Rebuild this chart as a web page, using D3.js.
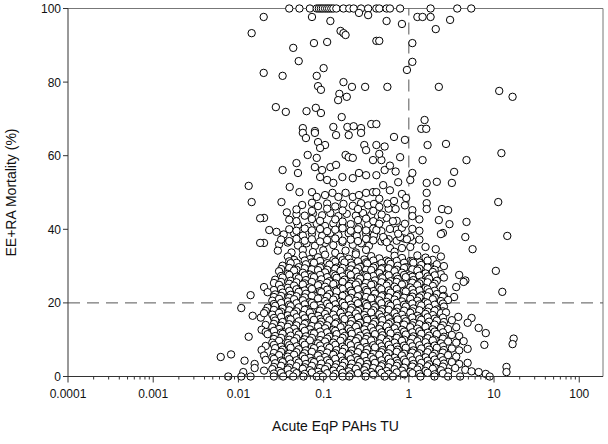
<!DOCTYPE html>
<html>
<head>
<meta charset="utf-8">
<script src="https://cdn.jsdelivr.net/npm/d3@7"></script>
<style>
  body { margin: 0; background: #fff; }
  svg { display: block; font-family: "Liberation Sans", Arial, sans-serif; }
</style>
</head>
<body>
<div id="chart"></div>
<script>
// [TU, mortality %], grouped by mortality band
const topRow = [[0.0395,100],[0.052,100],[0.069,100],[0.083,100],[0.088,100],[0.093,100],[0.098,100],[0.104,100],[0.11,100],[0.116,100],[0.123,100],[0.13,100],[0.141,100],[0.171,100],[0.2,100],[0.225,100],[0.275,100],[0.333,100],[0.416,100],[0.45,100],[0.548,100],[0.6,100],[0.79,100],[1.8,100],[3.7,100],[5.4,100]];

const upper = [[0.0198,97.7],[0.0143,93.3],[0.073,97.7],[0.12,96.6],[0.158,93.9],[0.171,93.3],[0.181,92.8],[0.077,90.6],[0.11,90.9],[0.044,89.3],[0.051,85.7],[0.0198,82.5],[0.033,81.7],[0.1,83.8],[0.083,81.7],[0.086,78.9],[0.093,77.9],[0.171,80],[0.215,78.7],[0.307,78.7],[0.153,76.8],[0.148,75.1],[0.187,76],[0.0275,73.2],[0.036,71.9],[0.063,72.1],[0.081,73],[0.093,71.6],[0.163,70.5],[0.416,91.2],[0.362,68.6],[0.416,68.6],[0.057,67.5],[0.079,66.7],[0.13,67.8],[0.19,67.8],[0.225,68],[0.275,67.5],[0.26,98.8],[0.333,98.2],[0.548,96.6],[0.83,95.8],[1.26,97.7],[1.45,97.7],[1.8,97.7],[3.05,96.9],[2.07,94.4],[0.45,91.2],[1.1,90.6],[1.1,85.5],[0.95,83.3],[0.56,78.7],[2.25,78.7],[1.53,69.7],[1.4,67.3],[1.6,67.3]];

const outliers = [[11.5,77.6],[16.5,76],[12.2,60.7],[11.2,47.4],[14.3,38.2],[10.5,28.7],[12.5,23],[17,10.3],[16.5,8.8],[14,2.6],[14,1.2]];

const middle = [[0.057,66.2],[0.079,66.2],[0.275,66.2],[0.14,65.6],[0.197,65.6],[0.062,64.8],[0.3,62.9],[0.315,61.5],[0.086,63.7],[0.104,62.9],[0.091,62.1],[0.065,60.2],[0.083,59.4],[0.181,60.2],[0.197,59.6],[0.22,59.4],[0.38,58.8],[0.048,58],[0.05,55.3],[0.033,56.1],[0.079,56.9],[0.096,56.1],[0.12,56.9],[0.14,57.5],[0.091,54.2],[0.11,53.4],[0.13,52.6],[0.166,54.2],[0.22,53.9],[0.26,55.3],[0.315,54.7],[0.04,51.5],[0.052,50.1],[0.073,50.1],[0.083,48.8],[0.104,49.3],[0.127,49.9],[0.149,48.8],[0.181,49.9],[0.22,48.8],[0.26,49.3],[0.315,49.9],[0.38,50.1],[0.032,47.4],[0.056,46.6],[0.073,47.2],[0.086,46.3],[0.11,47],[0.137,46.2],[0.171,46.9],[0.22,46.4],[0.275,47.1],[0.333,46.5],[0.39,46.9],[0.037,44.6],[0.048,44.1],[0.06,43.7],[0.075,44.3],[0.096,43.8],[0.12,44.4],[0.149,43.6],[0.187,44.2],[0.239,43.7],[0.29,44.4],[0.362,43.9],[0.02,43.1],[0.05,41.2],[0.065,40.7],[0.083,41.5],[0.104,40.9],[0.13,41.6],[0.166,40.8],[0.208,41.4],[0.26,40.6],[0.333,41.3],[0.023,39.8],[0.028,39.3],[0.034,38.6],[0.045,38.9],[0.057,38.3],[0.073,38.8],[0.096,38.2],[0.12,39],[0.149,38.4],[0.197,38.9],[0.245,38.2],[0.315,38.8],[0.39,38.4],[0.02,36.3],[0.03,35.9],[0.038,36.4],[0.05,35.6],[0.063,36.2],[0.079,35.5],[0.104,36.3],[0.13,35.7],[0.166,36.5],[0.22,35.8],[0.275,36.2],[0.34,35.5],[0.029,34.2],[0.042,33.7],[0.057,34.4],[0.075,33.8],[0.099,34.3],[0.137,33.6],[0.181,34.2],[0.239,33.7],[0.315,34.4],[0.0132,51.8],[0.0143,47.4],[0.018,43],[0.018,36.3],
  [0.048,45.4],[0.0728,45.0],[0.11,45.6],[0.167,45.1],[0.253,45.5],[0.383,45.0],[0.58,45.6],[1.1,45.2],
  [0.0395,42.6],[0.048,42.2],[0.0728,42.8],[0.0908,42.3],[0.137,42.7],[0.167,42.1],[0.253,42.5],[0.315,42.9],[0.383,42.2],[0.477,42.6],[0.72,42.3],[1.33,42.7],
  [0.0395,40.0],[0.048,39.6],[0.06,40.2],[0.0728,39.7],[0.0908,40.1],[0.11,39.5],[0.137,39.9],[0.167,40.3],[0.208,39.6],[0.253,40.0],[0.315,39.7],[0.383,40.2],[0.477,39.5],[0.72,39.9],[1.1,40.1],[1.33,39.6],
  [0.0317,37.2],[0.0395,36.8],[0.048,37.4],[0.06,36.9],[0.0728,37.3],[0.0908,36.7],[0.11,37.1],[0.137,37.5],[0.167,36.9],[0.208,37.2],[0.253,36.8],[0.315,37.4],[0.383,37.0],[0.477,36.7],[0.58,37.3],[0.72,36.9],[0.88,37.5],[1.1,36.8],[1.33,37.2]];

const middleRight = [[0.67,65.1],[0.9,64.3],[1.66,62.9],[2.73,63.2],[0.416,62.9],[0.477,58.8],[0.79,59.6],[1.45,58.8],[4.75,58.8],[0.52,56.1],[1.1,55.3],[3.4,55.6],[1.04,53.4],[1.62,52.6],[2.13,52.9],[3.2,52.6],[1.62,49.9],[0.67,47.7],[0.83,49.6],[0.93,48.5],[1.62,47.1],[0.7,45.5],[1.62,45.5],[2.45,45.5],[2.89,45.2],[1.1,43.6],[2.25,42.5],[3.0,41.4],[4.75,42],[0.6,40.1],[0.83,40.4],[2.51,39],[2.38,38.7],[1.04,37.9],[4.6,37.9],[0.52,37.1],[0.79,37.9],[1.57,35.2],[2.07,34.6],[5.6,34.6],[0.416,50.1],[0.45,46.1],[0.548,43.1],[0.416,39.8],[0.5,37.9],[0.6,34.9],[0.83,34.9],[1.04,35.2],[0.416,54.7],[0.45,60.5],[0.52,62.5],[0.6,57.3],[0.7,55.7],[0.5,52],[0.6,50.6],[0.75,52.8],[0.45,48.3],[0.56,47],[0.9,46.5],[0.48,44],[0.65,42.2],[0.9,41.5],[0.45,41.5],[0.75,38.8],[0.95,37.3],[0.55,36.5],[0.68,33.9]];

const lower = [
  [0.038,32.6],[0.045,31.7],[0.057,32.9],[0.069,31.9],[0.086,32.4],[0.104,33.1],[0.13,31.6],[0.158,32.5],[0.197,32.0],[0.239,33.2],[0.3,31.8],[0.362,32.7],[0.45,32.1],[0.548,31.5],[0.68,32.8],[0.83,32.2],[1.04,31.4],[1.26,32.9],[1.57,32.3],[1.91,31.7],[2.38,32.6],
  [0.0395,31.3],[0.048,30.9],[0.06,31.5],[0.0728,31.0],[0.0908,31.4],[0.11,30.8],[0.137,31.2],[0.167,31.6],[0.208,30.9],[0.253,31.3],[0.315,31.0],[0.383,31.5],[0.477,30.8],[0.58,31.2],[0.72,31.4],[0.88,30.9],[1.1,31.3],[1.33,31.0],[1.66,31.5],
  [0.033,30.1],[0.041,30.8],[0.051,29.7],[0.062,30.5],[0.077,30.9],[0.094,29.9],[0.117,30.4],[0.142,29.6],[0.176,31.0],[0.214,30.2],[0.268,29.8],[0.325,30.7],[0.4,30.0],[0.49,29.5],[0.61,30.6],[0.74,30.1],[0.92,29.7],[1.13,30.9],[1.4,30.3],[1.73,29.6],[2.13,30.5],[2.58,30.0],[3.9,27.6],[4.6,26.1],
  [0.0317,29.2],[0.0395,29.5],[0.048,29.0],[0.06,29.4],[0.0728,29.1],[0.0908,29.6],[0.11,29.0],[0.137,29.3],[0.167,29.5],[0.208,29.1],[0.253,29.4],[0.315,29.0],[0.383,29.6],[0.477,29.2],[0.58,29.4],[0.72,29.0],[0.88,29.5],[1.1,29.1],[1.33,29.3],[1.66,29.6],[2.01,29.0],
  [0.03,28.6],[0.038,27.9],[0.045,28.8],[0.057,28.2],[0.069,27.7],[0.086,28.9],[0.104,28.3],[0.13,27.8],[0.158,28.7],[0.197,28.0],[0.239,28.5],[0.3,27.6],[0.362,28.9],[0.45,28.1],[0.548,27.7],[0.68,28.6],[0.83,28.2],[1.04,27.5],[1.26,28.8],[1.57,28.0],[1.91,28.4],[2.38,27.8],
  [0.0317,27.3],[0.0395,27.6],[0.048,27.1],[0.06,27.5],[0.0728,27.2],[0.0908,27.6],[0.11,27.0],[0.137,27.4],[0.167,27.2],[0.208,27.6],[0.253,27.1],[0.315,27.5],[0.383,27.3],[0.477,27.0],[0.58,27.5],[0.72,27.2],[0.88,27.6],[1.1,27.1],[1.33,27.4],[1.66,27.2],[2.01,27.5],
  [0.027,26.3],[0.033,26.9],[0.041,26.0],[0.051,26.7],[0.062,26.2],[0.077,27.0],[0.094,26.4],[0.117,25.9],[0.142,26.8],[0.176,26.3],[0.214,25.8],[0.268,26.6],[0.325,27.1],[0.4,26.1],[0.49,26.7],[0.61,25.9],[0.74,26.5],[0.92,27.0],[1.13,26.2],[1.4,25.8],[1.73,26.6],[2.13,26.0],[2.58,26.9],
  [0.0261,25.4],[0.0317,25.7],[0.0395,25.2],[0.048,25.6],[0.06,25.3],[0.0728,25.7],[0.0908,25.1],[0.11,25.5],[0.137,25.3],[0.167,25.7],[0.208,25.2],[0.253,25.6],[0.315,25.4],[0.383,25.1],[0.477,25.6],[0.58,25.3],[0.72,25.7],[0.88,25.2],[1.1,25.5],[1.33,25.3],[1.66,25.6],[2.01,25.2],
  [0.02,24.3],[0.03,24.9],[0.038,24.1],[0.045,24.7],[0.057,25.0],[0.069,24.2],[0.086,24.8],[0.104,24.4],[0.13,25.1],[0.158,24.0],[0.197,24.6],[0.239,25.0],[0.3,24.3],[0.362,24.9],[0.45,24.1],[0.548,24.7],[0.68,24.4],[0.83,25.0],[1.04,24.2],[1.26,24.8],[1.57,24.0],[1.91,24.6],[3.6,24.3],[4.4,25.7],
  [0.0261,23.5],[0.0317,23.8],[0.0395,23.3],[0.048,23.7],[0.06,23.4],[0.0728,23.8],[0.0908,23.2],[0.11,23.6],[0.137,23.4],[0.167,23.8],[0.208,23.3],[0.253,23.7],[0.315,23.5],[0.383,23.2],[0.477,23.7],[0.58,23.4],[0.72,23.8],[0.88,23.3],[1.1,23.6],[1.33,23.4],[1.66,23.7],[2.01,23.3],[2.51,23.6],
  [0.0139,22.1],[0.022,22.9],[0.027,22.3],[0.033,22.8],[0.041,22.2],[0.051,23.0],[0.062,22.5],[0.077,22.0],[0.094,22.9],[0.117,22.4],[0.142,23.1],[0.176,22.2],[0.214,22.7],[0.268,22.0],[0.325,23.0],[0.4,22.5],[0.49,22.1],[0.61,22.8],[0.74,22.3],[0.92,23.1],[1.13,22.6],[1.4,22.0],[1.73,22.9],[2.13,22.4],[2.58,21.9],[3.4,21.6],
  [0.0261,21.6],[0.0317,21.9],[0.0395,21.4],[0.048,21.8],[0.06,21.5],[0.0728,21.9],[0.0908,21.3],[0.11,21.7],[0.137,21.5],[0.167,21.9],[0.208,21.4],[0.253,21.8],[0.315,21.6],[0.383,21.3],[0.477,21.8],[0.58,21.5],[0.72,21.9],[0.88,21.4],[1.1,21.7],[1.33,21.5],[1.66,21.8],[2.01,21.4],[2.51,21.7],
  [0.025,20.6],[0.03,21.1],[0.038,20.4],[0.045,21.0],[0.057,20.7],[0.069,20.2],[0.086,21.2],[0.104,20.5],[0.13,20.9],[0.158,20.3],[0.197,21.0],[0.239,20.6],[0.3,20.1],[0.362,21.2],[0.45,20.7],[0.548,20.3],[0.68,20.9],[0.83,20.4],[1.04,21.1],[1.26,20.6],[1.57,20.2],[1.91,21.0],[2.38,20.5],[2.89,20.8],
  [0.0261,19.7],[0.0317,20.0],[0.0395,19.5],[0.048,19.9],[0.06,19.6],[0.0728,20.0],[0.0908,19.4],[0.11,19.8],[0.137,19.6],[0.167,20.0],[0.208,19.5],[0.253,19.9],[0.315,19.7],[0.383,19.4],[0.477,19.9],[0.58,19.6],[0.72,20.0],[0.88,19.5],[1.1,19.8],[1.33,19.6],[1.66,19.9],[2.01,19.5],[2.51,19.8],
  [0.0108,18.6],[0.022,18.7],[0.027,19.2],[0.033,18.5],[0.041,19.1],[0.051,18.8],[0.062,18.3],[0.077,19.3],[0.094,18.6],[0.117,19.0],[0.142,18.4],[0.176,19.2],[0.214,18.7],[0.268,18.2],[0.325,19.1],[0.4,18.8],[0.49,18.3],[0.61,19.2],[0.74,18.6],[0.92,19.0],[1.13,18.5],[1.4,19.3],[1.73,18.7],[2.13,18.2],[2.58,19.0],
  [0.0209,17.8],[0.0261,18.1],[0.0317,17.6],[0.0395,18.0],[0.048,17.7],[0.06,18.1],[0.0728,17.5],[0.0908,17.9],[0.11,17.7],[0.137,18.1],[0.167,17.6],[0.208,18.0],[0.253,17.8],[0.315,17.5],[0.383,18.0],[0.477,17.7],[0.58,18.1],[0.72,17.6],[0.88,17.9],[1.1,17.7],[1.33,18.0],[1.66,17.6],[2.01,17.9],[2.51,17.7],
  [0.0147,16.5],[0.0183,16.0],[0.02,17.2],[0.025,16.8],[0.03,17.3],[0.038,16.6],[0.045,17.1],[0.057,16.7],[0.069,17.4],[0.086,16.5],[0.104,17.0],[0.13,16.8],[0.158,17.3],[0.197,16.6],[0.239,17.1],[0.3,16.7],[0.362,17.4],[0.45,16.9],[0.548,16.4],[0.68,17.2],[0.83,16.8],[1.04,17.3],[1.26,16.5],[1.57,17.0],[1.91,16.7],[2.38,17.2],[2.73,17.4],[3.8,16.2],[5.45,15.9]
];

const bottom = [
  [0.0261,15.9],[0.0317,16.2],[0.0395,15.7],[0.048,16.1],[0.06,15.8],[0.0728,16.2],[0.0908,15.6],[0.11,16.0],[0.137,15.8],[0.167,16.2],[0.208,15.7],[0.253,16.1],[0.315,15.9],[0.383,15.6],[0.477,16.1],[0.58,15.8],[0.72,16.2],[0.88,15.7],[1.1,16.0],[1.33,15.8],[1.66,16.1],[2.01,15.7],[2.51,16.0],
  [0.027,15.2],[0.033,14.8],[0.041,15.5],[0.051,15.0],[0.062,14.6],[0.077,15.4],[0.094,14.9],[0.117,15.3],[0.142,14.7],[0.176,15.6],[0.214,15.1],[0.268,14.6],[0.325,15.4],[0.4,14.9],[0.49,15.3],[0.61,14.7],[0.74,15.5],[0.92,15.0],[1.13,14.6],[1.4,15.4],[1.73,14.9],[2.13,15.2],[2.58,14.8],[3.2,15.3],[4.9,14.6],
  [0.0209,14.0],[0.0261,14.3],[0.0317,13.8],[0.0395,14.2],[0.048,13.9],[0.06,14.3],[0.0728,13.7],[0.0908,14.1],[0.11,13.9],[0.137,14.3],[0.167,13.8],[0.208,14.2],[0.253,14.0],[0.315,13.7],[0.383,14.2],[0.477,13.9],[0.58,14.3],[0.72,13.8],[0.88,14.1],[1.1,13.9],[1.33,14.2],[1.66,13.8],[2.01,14.1],[2.51,13.9],
  [0.0187,12.7],[0.025,13.4],[0.03,12.9],[0.038,13.5],[0.045,13.0],[0.057,13.3],[0.069,12.8],[0.086,13.6],[0.104,13.1],[0.13,12.7],[0.158,13.4],[0.197,13.0],[0.239,13.5],[0.3,12.8],[0.362,13.3],[0.45,12.9],[0.548,13.6],[0.68,13.1],[0.83,12.7],[1.04,13.4],[1.26,13.0],[1.57,13.5],[1.91,12.8],[2.38,13.2],[2.89,12.9],[3.6,13.4],[6.6,13.2],[8.0,11.8],
  [0.0209,12.1],[0.0261,12.4],[0.0317,11.9],[0.0395,12.3],[0.048,12.0],[0.06,12.4],[0.0728,11.8],[0.0908,12.2],[0.11,12.0],[0.137,12.4],[0.167,11.9],[0.208,12.3],[0.253,12.1],[0.315,11.8],[0.383,12.3],[0.477,12.0],[0.58,12.4],[0.72,11.9],[0.88,12.2],[1.1,12.0],[1.33,12.3],[1.66,11.9],[2.01,12.2],[2.51,12.0],
  [0.0132,10.8],[0.022,11.5],[0.027,11.0],[0.033,11.6],[0.041,11.1],[0.051,11.4],[0.062,10.9],[0.077,11.7],[0.094,11.2],[0.117,10.8],[0.142,11.5],[0.176,11.0],[0.214,11.6],[0.268,11.1],[0.325,10.9],[0.4,11.5],[0.49,11.2],[0.61,11.7],[0.74,11.0],[0.92,11.4],[1.13,10.9],[1.4,11.6],[1.73,11.1],[2.13,11.5],[2.58,10.8],[3.2,11.3],[3.9,11.0],
  [0.0261,10.2],[0.0317,10.5],[0.0395,10.0],[0.048,10.4],[0.06,10.1],[0.0728,10.5],[0.0908,9.9],[0.11,10.3],[0.137,10.1],[0.167,10.5],[0.208,10.0],[0.253,10.4],[0.315,10.2],[0.383,9.9],[0.477,10.4],[0.58,10.1],[0.72,10.5],[0.88,10.0],[1.1,10.3],[1.33,10.1],[1.66,10.4],[2.01,10.0],[2.51,10.3],
  [0.025,9.2],[0.03,9.7],[0.038,9.1],[0.045,9.6],[0.057,9.3],[0.069,9.8],[0.086,9.0],[0.104,9.5],[0.13,9.2],[0.158,9.7],[0.197,9.1],[0.239,9.6],[0.3,9.3],[0.362,9.8],[0.45,9.0],[0.548,9.5],[0.68,9.2],[0.83,9.7],[1.04,9.1],[1.26,9.6],[1.57,9.3],[1.91,9.8],[2.38,9.0],[2.89,9.5],[3.6,9.2],[4.4,9.6],[7.7,8.6],
  [0.0209,8.3],[0.0261,8.6],[0.0317,8.1],[0.0395,8.5],[0.048,8.2],[0.06,8.6],[0.0728,8.0],[0.0908,8.4],[0.11,8.2],[0.137,8.6],[0.167,8.1],[0.208,8.5],[0.253,8.3],[0.315,8.0],[0.383,8.5],[0.477,8.2],[0.58,8.6],[0.72,8.1],[0.88,8.4],[1.1,8.2],[1.33,8.5],[1.66,8.1],[2.01,8.4],[2.51,8.2],
  [0.0187,7.2],[0.027,7.7],[0.033,7.3],[0.041,7.8],[0.051,7.4],[0.062,7.1],[0.077,7.7],[0.094,7.3],[0.117,7.8],[0.142,7.2],[0.176,7.6],[0.214,7.1],[0.268,7.7],[0.325,7.4],[0.4,7.9],[0.49,7.2],[0.61,7.6],[0.74,7.3],[0.92,7.8],[1.13,7.1],[1.4,7.6],[1.73,7.3],[2.13,7.8],[2.58,7.2],[3.2,7.6],[3.9,7.1],[4.9,7.5],
  [0.0261,6.4],[0.0317,6.7],[0.0395,6.2],[0.048,6.6],[0.06,6.3],[0.0728,6.7],[0.0908,6.1],[0.11,6.5],[0.137,6.3],[0.167,6.7],[0.208,6.2],[0.253,6.6],[0.315,6.4],[0.383,6.1],[0.477,6.6],[0.58,6.3],[0.72,6.7],[0.88,6.2],[1.1,6.5],[1.33,6.3],[1.66,6.6],[2.01,6.2],[2.51,6.5],
  [0.0062,5.3],[0.0082,6.0],[0.02,5.7],[0.025,5.2],[0.03,5.8],[0.038,5.4],[0.045,5.9],[0.057,5.5],[0.069,5.1],[0.086,5.7],[0.104,5.3],[0.13,5.9],[0.158,5.4],[0.197,5.8],[0.239,5.2],[0.3,5.6],[0.362,5.3],[0.45,5.9],[0.548,5.5],[0.68,5.1],[0.83,5.7],[1.04,5.4],[1.26,5.8],[1.57,5.2],[1.91,5.6],[2.38,5.3],[2.89,5.8],[3.6,5.4],
  [0.0209,4.5],[0.0261,4.8],[0.0317,4.3],[0.0395,4.7],[0.048,4.4],[0.06,4.8],[0.0728,4.2],[0.0908,4.6],[0.11,4.4],[0.137,4.8],[0.167,4.3],[0.208,4.7],[0.253,4.5],[0.315,4.2],[0.383,4.7],[0.477,4.4],[0.58,4.8],[0.72,4.3],[0.88,4.6],[1.1,4.4],[1.33,4.7],[1.66,4.3],[2.01,4.6],[2.51,4.4],
  [0.0118,4.3],[0.0155,3.4],[0.027,3.6],[0.033,3.9],[0.041,3.5],[0.051,3.8],[0.062,3.4],[0.077,3.9],[0.094,3.5],[0.117,3.7],[0.142,3.3],[0.176,3.8],[0.214,3.5],[0.268,3.9],[0.325,3.4],[0.4,3.7],[0.49,3.3],[0.61,3.8],[0.74,3.6],[0.92,3.9],[1.13,3.4],[1.4,3.7],[1.73,3.3],[2.13,3.8],[2.58,3.5],[3.2,3.9],[3.9,3.4],[4.9,3.7],
  [0.0261,2.6],[0.0317,2.9],[0.0395,2.4],[0.048,2.8],[0.06,2.5],[0.0728,2.9],[0.0908,2.3],[0.11,2.7],[0.137,2.5],[0.167,2.9],[0.208,2.4],[0.253,2.8],[0.315,2.6],[0.383,2.3],[0.477,2.8],[0.58,2.5],[0.72,2.9],[0.88,2.4],[1.1,2.7],[1.33,2.5],[1.66,2.8],[2.01,2.4],[2.51,2.7],
  [0.0114,1.2],[0.0155,2.3],[0.02,1.6],[0.025,2.0],[0.03,1.5],[0.038,1.9],[0.045,1.4],[0.057,2.1],[0.069,1.7],[0.086,1.3],[0.104,2.0],[0.13,1.6],[0.158,1.9],[0.197,1.4],[0.239,2.1],[0.3,1.7],[0.362,1.2],[0.45,1.9],[0.548,1.5],[0.68,2.0],[0.83,1.6],[1.04,1.3],[1.26,1.9],[1.57,1.5],[1.91,2.1],[2.38,1.7],[2.89,1.3],[3.5,2.3],[4.6,1.8],[5.45,1.4],[6.6,1.2],[8.0,0.7],
  [0.0261,0.8],[0.0317,1.0],[0.0395,0.6],[0.048,0.9],[0.06,0.7],[0.0728,1.1],[0.0908,0.5],[0.11,0.9],[0.137,0.7],[0.167,1.0],[0.208,0.6],[0.253,0.9],[0.315,0.8],[0.383,0.5],[0.477,1.0],[0.58,0.7],[0.72,1.1],[0.88,0.6],[1.1,0.9],[1.33,0.7],[1.66,1.0],[2.01,0.6],[2.51,0.8]
];

const zeroRow = [[0.0076,0],[0.0108,0],[0.0139,0],[0.026,0],[0.0335,0],[0.044,0],[0.058,0],[0.083,0],[0.098,0],[0.13,0],[0.167,0],[0.2,0],[0.31,0],[0.52,0],[0.65,0],[1.37,0],[2.0,0],[2.89,0],[4.0,0],[8.9,0]];

const xTicks = [1e-4, 1e-3, 1e-2, 0.1, 1, 10, 100];
const xTickLabels = ["0.0001", "0.001", "0.01", "0.1", "1", "10", "100"];
const yTicks = [0, 20, 40, 60, 80, 100];
const mortalityCutoff = 20;
const tuCutoff = 1;

const width = 608, height = 444;
const margin = { top: 8.5, right: 5, bottom: 67.5, left: 68 };

const svg = d3.select("#chart").append("svg")
  .attr("width", width)
  .attr("height", height);

const x = d3.scaleLog()
  .domain([1e-4, 190])
  .range([margin.left, width - margin.right]);
const y = d3.scaleLinear()
  .domain([0, 100])
  .range([height - margin.bottom, margin.top]);

const x0 = margin.left, x1 = width - margin.right;
const y0 = height - margin.bottom, y1 = margin.top;

// top / right frame
svg.append("path")
  .attr("d", `M${x0},${y1}H${x1}V${y0}`)
  .attr("fill", "none")
  .attr("stroke", "#777")
  .attr("stroke-width", 1);

// reference lines
svg.append("line")
  .attr("x1", x0).attr("x2", x1)
  .attr("y1", y(mortalityCutoff)).attr("y2", y(mortalityCutoff))
  .attr("stroke", "#555").attr("stroke-dasharray", "12,7");
svg.append("line")
  .attr("x1", x(tuCutoff)).attr("x2", x(tuCutoff))
  .attr("y1", y(0)).attr("y2", y(100))
  .attr("stroke", "#555").attr("stroke-dasharray", "12,7");

// points
const points = [].concat(topRow, upper, outliers, middle, middleRight, lower, bottom, zeroRow);
svg.append("g")
  .selectAll("circle")
  .data(points)
  .join("circle")
  .attr("cx", d => x(d[0]))
  .attr("cy", d => y(d[1]))
  .attr("r", 3.7)
  .attr("fill", "#fff")
  .attr("stroke", "#000")
  .attr("stroke-width", 1);

// axes
svg.append("line")
  .attr("x1", x0).attr("x2", x0).attr("y1", y0).attr("y2", y1)
  .attr("stroke", "#333");
svg.append("line")
  .attr("x1", x0).attr("x2", x1).attr("y1", y0).attr("y2", y0)
  .attr("stroke", "#333");

// x ticks (major + minor up to 100)
const minor = [];
xTicks.slice(0, -1).forEach(t => {
  for (let k = 2; k <= 9; k++) minor.push(t * k);
});
svg.append("g").selectAll("line.minor")
  .data(minor).join("line")
  .attr("x1", d => x(d)).attr("x2", d => x(d))
  .attr("y1", y0).attr("y2", y0 + 3)
  .attr("stroke", "#333");
svg.append("g").selectAll("line.major")
  .data(xTicks).join("line")
  .attr("x1", d => x(d)).attr("x2", d => x(d))
  .attr("y1", y0).attr("y2", y0 + 6)
  .attr("stroke", "#333");
svg.append("g").selectAll("text")
  .data(xTicks).join("text")
  .attr("x", d => x(d))
  .attr("y", y0 + 21)
  .attr("text-anchor", "middle")
  .attr("font-size", 12)
  .attr("fill", "#111")
  .text((d, i) => xTickLabels[i]);

// y ticks
svg.append("g").selectAll("line")
  .data(yTicks).join("line")
  .attr("x1", x0 - 5).attr("x2", x0)
  .attr("y1", d => y(d)).attr("y2", d => y(d))
  .attr("stroke", "#333");
svg.append("g").selectAll("text")
  .data(yTicks).join("text")
  .attr("x", x0 - 7)
  .attr("y", d => y(d) + 4.5)
  .attr("text-anchor", "end")
  .attr("font-size", 12)
  .attr("fill", "#111")
  .text(d => d);

// axis titles
svg.append("text")
  .attr("x", (x0 + x1) / 2)
  .attr("y", 431)
  .attr("text-anchor", "middle")
  .attr("font-size", 14)
  .attr("fill", "#111")
  .text("Acute EqP PAHs TU");
svg.append("text")
  .attr("transform", `translate(16,${(y0 + y1) / 2}) rotate(-90)`)
  .attr("text-anchor", "middle")
  .attr("font-size", 14)
  .attr("fill", "#111")
  .text("EE+RA Mortality (%)");
</script>
</body>
</html>
